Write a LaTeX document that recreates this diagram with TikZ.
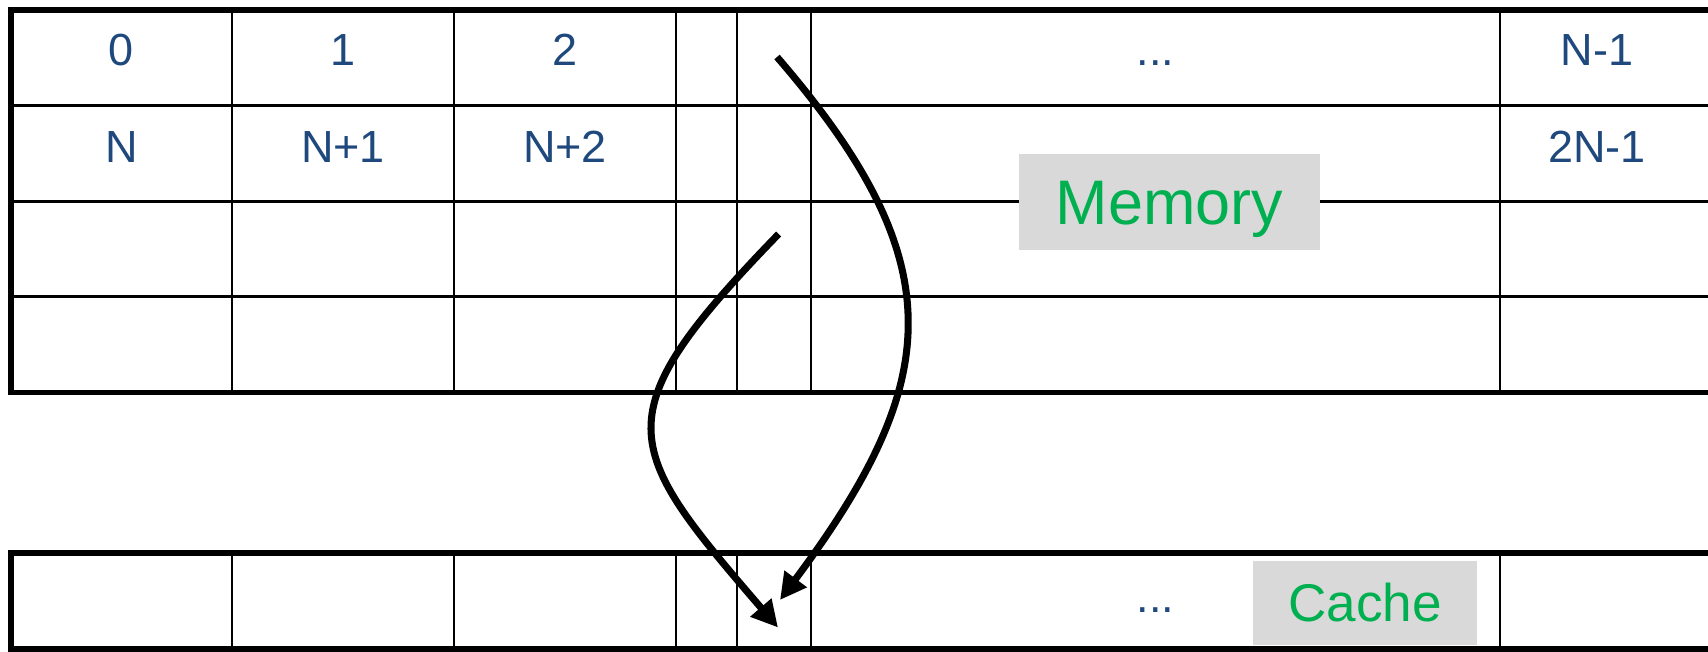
\documentclass[tikz,border=0pt]{standalone}
\definecolor{MEMnavy}{HTML}{1F497D}
\definecolor{MEMgreen}{HTML}{00B050}
\definecolor{MEMgray}{HTML}{D9D9D9}
\usepackage{fontspec}
\setmainfont{Liberation Sans}
\usetikzlibrary{arrows.meta, positioning}

\tikzset{
   cellnum/.style={MEMnavy, anchor=base, inner sep=0pt, font=\fontsize{12.8}{14}\selectfont},
   tagbox/.style={fill=MEMgray, text=MEMgreen, inner sep=0pt, text depth=0pt},
   gridthick/.style={line width=1.6pt},
   gridthin/.style={line width=0.7pt},
   fetch/.style={-{Triangle[length=7.5pt, width=7.5pt]}, line width=2pt}
}

\begin{document}
\begin{tikzpicture}[x=0.01cm, y=-0.01cm]
            \useasboundingbox (0,0) rectangle (1708,651);
            % Memory grid
            \draw[gridthin] (11,105.7) -- (1708,105.7);
            \draw[gridthin] (11,201.5) -- (1708,201.5);
            \draw[gridthin] (11,296.5) -- (1708,296.5);
            \draw[gridthin] (232,10) -- (232,392.5);
            \draw[gridthin] (454,10) -- (454,392.5);
            \draw[gridthin] (676,10) -- (676,392.5);
            \draw[gridthin] (737,10) -- (737,392.5);
            \draw[gridthin] (811,10) -- (811,392.5);
            \draw[gridthin] (1500,10) -- (1500,392.5);
            \draw[gridthick] (1708,10) -- (11,10) -- (11,392.5) -- (1708,392.5);
            % Cache row
            \draw[gridthin] (232,553) -- (232,649);
            \draw[gridthin] (454,553) -- (454,649);
            \draw[gridthin] (676,553) -- (676,649);
            \draw[gridthin] (737,553) -- (737,649);
            \draw[gridthin] (811,553) -- (811,649);
            \draw[gridthin] (1500,553) -- (1500,649);
            \draw[gridthick] (1708,553) -- (11,553) -- (11,649) -- (1708,649);
            % Addresses, first row
            \node[cellnum] (n0) at (121.5,65.5) {0};
            \node[cellnum] (n1) at (343,65.5) {1};
            \node[cellnum] (n2) at (565,65.5) {2};
            \node[cellnum] (ndots) at (1155.5,65.5) {...};
            \node[cellnum] (nlast) at (1597,65.5) {N-1};
            % Addresses, second row
            \node[cellnum] (nN) at (121.5,162) {N};
            \node[cellnum] (nN1) at (343,162) {N+1};
            \node[cellnum] (nN2) at (565,162) {N+2};
            \node[cellnum] (n2N1) at (1597,162) {2N-1};
            \node[cellnum] (cdots) at (1155.5,612) {...};
            % Labels
            \node[tagbox, font=\fontsize{17.9}{20}\selectfont, text height=12.8pt,
               minimum width=3.01cm, minimum height=0.96cm] (mem) at (1169.5,202) {Memory};
            \node[tagbox, font=\fontsize{15.1}{17}\selectfont, text height=10.8pt,
               minimum width=2.24cm, minimum height=0.84cm] (cache) at (1365,603) {Cache};
            % Both rows map to the same cache line
            \coordinate (rowA) at (777,57);
            \coordinate (rowB) at (778.6,234);
            \coordinate (lineA) at (780,600);
            \coordinate (lineB) at (778,627.5);
            \draw[fetch] (rowA) .. controls (955,263) and (943,381) .. (lineA);
            \draw[fetch] (rowB) .. controls (601,417) and (621.5,445.6) .. (lineB);
         \end{tikzpicture}
\end{document}
